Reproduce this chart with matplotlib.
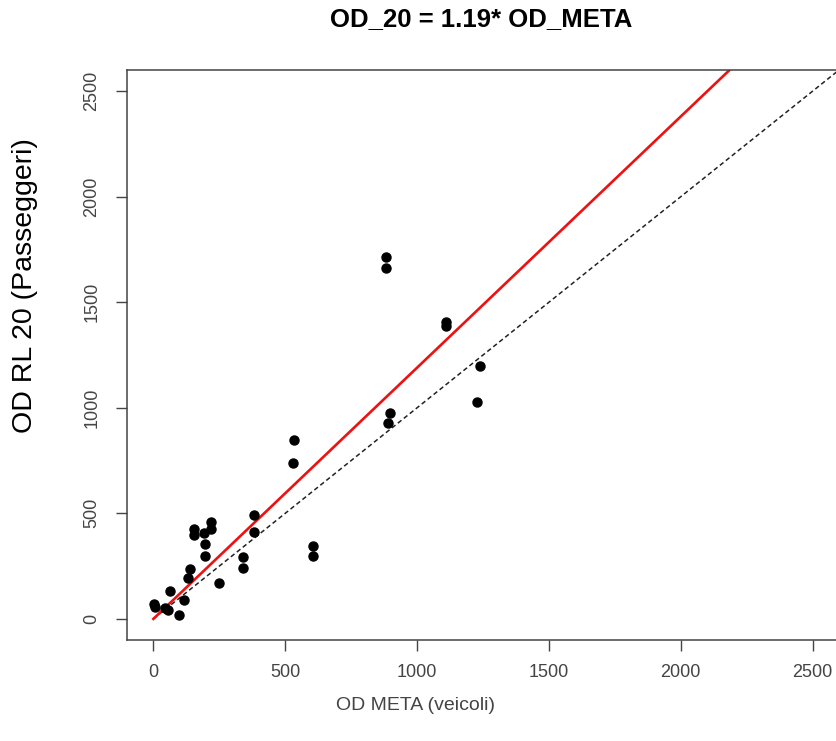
import numpy as np
import matplotlib.pyplot as plt

plt.rcParams['font.family'] = ['Liberation Sans', 'DejaVu Sans']

# OD matrix values
od_meta = [3, 5, 45, 55, 64, 98, 117, 132, 140, 155, 155, 193, 197, 197, 219, 219,
           250, 340, 340, 382, 382, 534, 530, 605, 605, 881, 881, 896, 889,
           1108, 1108, 1237, 1229]
od_rl20 = [70, 55, 50, 40, 132, 19, 90, 194, 236, 425, 397, 406, 354, 298, 458, 425,
           170, 293, 241, 491, 411, 846, 737, 345, 298, 1715, 1664, 974, 926,
           1408, 1389, 1196, 1026]
slope = 1.19
ticks = [0, 500, 1000, 1500, 2000, 2500]

fig = plt.figure(figsize=(8.36, 7.41), dpi=100)
ax = fig.add_axes([0.1519, 0.1363, 0.8517, 0.7692])

xx = np.array([0, 2600])
ax.plot(xx, xx, color='#222222', lw=1.1, ls=(0, (3, 2)))
ax.plot(xx, slope * xx, color='#ee1111', lw=1.9)
ax.plot(od_meta, od_rl20, 'o', color='black', ms=6.5)

ax.set_xlim(-100, 2600)
ax.set_ylim(-100, 2600)
ax.set_xticks(ticks)
ax.set_yticks(ticks)
ax.set_yticklabels(ticks, rotation=90, va='center')
ax.tick_params(axis='both', length=8, width=1, color='#444444', labelcolor='#444444',
               labelsize=13)
ax.tick_params(axis='x', pad=9)
ax.tick_params(axis='y', pad=11)
for s in ax.spines.values():
    s.set_color('#444444')
    s.set_linewidth(1.1)

# labels placed like the R device output (centred on the full plot region)
fig.text(416 / 836, 1 - 706 / 741, 'OD META (veicoli)', ha='center', va='center',
         fontsize=14, color='#444444')
fig.text(25 / 836, 1 - 286 / 741, 'OD RL 20 (Passeggeri)', ha='center', va='center',
         rotation=90, fontsize=20.5, color='black')
fig.text(481 / 836, 1 - 19 / 741, 'OD_20 = 1.19* OD_META', ha='center', va='center',
         fontsize=18.5, fontweight='bold')

fig.savefig('out.png', dpi=100)
